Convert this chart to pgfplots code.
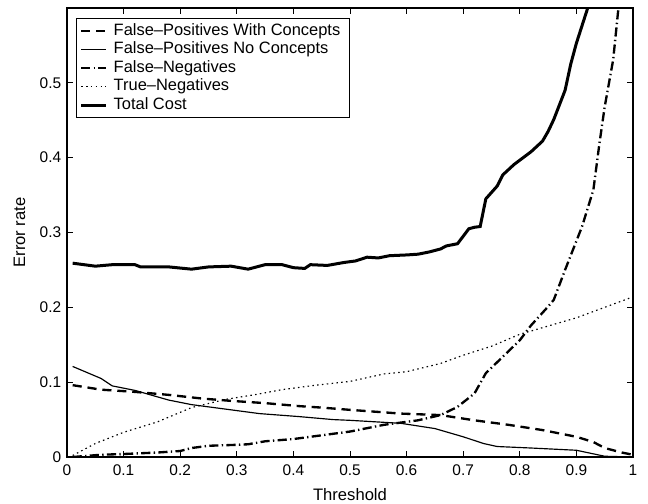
\documentclass[border=0pt]{standalone}
\usepackage{fontspec}
\setmainfont{Liberation Sans}
\usepackage{pgfplots}
\pgfplotsset{compat=1.18}
\begin{document}
\begin{tikzpicture}
\useasboundingbox (-40.2bp,-28.2bp) rectangle (348.6bp,274.2bp);
\begin{axis}[
  at={(0,0)}, anchor=south west,
  scale only axis, width=339.6bp, height=269.4bp,
  xmin=0, xmax=1, ymin=0, ymax=0.6,
  xtick={0,0.1,...,1}, ytick={0,0.1,...,0.5},
  xticklabels={0,0.1,0.2,0.3,0.4,0.5,0.6,0.7,0.8,0.9,1},
  yticklabels={0,0.1,0.2,0.3,0.4,0.5},
  tick align=inside, tick pos=both,
  major tick length=3.6bp,
  axis line style={line width=0.8bp},
  every tick/.style={line width=0.6bp, black},
  /pgf/number format/assume math mode=true,
  tick label style={font=\fontsize{9.3}{11}\selectfont},
  xticklabel style={yshift=-1bp},
  label style={font=\fontsize{10}{12}\selectfont},
  xlabel={Threshold}, ylabel={Error rate},
  xlabel style={yshift=-1bp},
  ylabel style={yshift=1.8bp},
  clip=true,
  legend cell align=left,
  legend style={at={(0.016,0.978)}, anchor=north west, draw=black, line width=0.8bp,
    font=\fontsize{9.9}{11}\selectfont, row sep=0bp, inner sep=1.8bp,
    nodes={inner xsep=3.6bp, inner ysep=1.08bp, text height=7bp, text depth=2bp}},
  legend image code/.code={\draw[#1] (0bp,0bp) -- (15bp,0bp);},
]
\addplot[black, line width=1.4bp, dash pattern=on 5.5bp off 3.5bp] coordinates {
(0.01,0.096) (0.06,0.090) (0.12,0.087) (0.18,0.083) (0.24,0.078) (0.29,0.075)
(0.35,0.072) (0.41,0.068) (0.45,0.066) (0.50,0.063) (0.59,0.058) (0.66,0.056)
(0.72,0.049) (0.78,0.043) (0.84,0.036) (0.90,0.027) (0.93,0.020) (0.95,0.012)
(0.98,0.006) (1.00,0.003)};
\addlegendentry{False\textendash Positives With Concepts}
\addplot[black, line width=0.7bp] coordinates {
(0.01,0.121) (0.06,0.105) (0.08,0.095) (0.12,0.089) (0.18,0.076) (0.22,0.070)
(0.29,0.063) (0.34,0.058) (0.41,0.054) (0.47,0.050) (0.50,0.049) (0.59,0.045)
(0.65,0.038) (0.70,0.027) (0.736,0.018) (0.76,0.014) (0.82,0.012) (0.90,0.009)
(0.95,0.001) (1.00,0.000)};
\addlegendentry{False\textendash Positives No Concepts}
\addplot[black, line width=1.4bp, dash pattern=on 5.5bp off 2bp on 0.8bp off 2bp] coordinates {
(0.01,0.000) (0.06,0.003) (0.10,0.004) (0.16,0.006) (0.20,0.008) (0.22,0.012)
(0.25,0.015) (0.29,0.016) (0.32,0.017) (0.35,0.021) (0.40,0.024) (0.44,0.028)
(0.46,0.030) (0.50,0.034) (0.56,0.043) (0.62,0.049) (0.66,0.056) (0.69,0.067)
(0.72,0.085) (0.74,0.112) (0.77,0.134) (0.80,0.156) (0.82,0.176) (0.85,0.201)
(0.86,0.210) (0.88,0.250) (0.91,0.308) (0.93,0.357) (0.94,0.415) (0.95,0.468)
(0.965,0.531) (0.974,0.598) (0.98,0.65)};
\addlegendentry{False\textendash Negatives}
\addplot[black, line width=0.7bp, dash pattern=on 0.9bp off 2bp] coordinates {
(0.01,0.002) (0.05,0.018) (0.10,0.033) (0.16,0.047) (0.22,0.066) (0.28,0.077)
(0.33,0.083) (0.38,0.090) (0.44,0.096) (0.50,0.101) (0.56,0.111) (0.60,0.114)
(0.66,0.125) (0.70,0.136) (0.75,0.148) (0.80,0.164) (0.85,0.175) (0.90,0.186)
(0.95,0.200) (1.00,0.214)};
\addlegendentry{True\textendash Negatives}
\addplot[black, line width=1.8bp] coordinates {
(0.01,0.259) (0.05,0.255) (0.08,0.257) (0.12,0.257) (0.13,0.254) (0.18,0.254)
(0.22,0.251) (0.25,0.254) (0.29,0.255) (0.32,0.251) (0.35,0.257) (0.38,0.257)
(0.40,0.253) (0.42,0.252) (0.43,0.257) (0.46,0.256) (0.49,0.260) (0.51,0.262)
(0.53,0.267) (0.55,0.266) (0.57,0.269) (0.60,0.270) (0.62,0.271) (0.64,0.274)
(0.66,0.278) (0.67,0.282) (0.69,0.285) (0.71,0.305) (0.72,0.307) (0.73,0.308)
(0.74,0.345) (0.76,0.362) (0.77,0.377) (0.79,0.391) (0.82,0.408) (0.84,0.422)
(0.85,0.435) (0.86,0.451) (0.88,0.490) (0.89,0.525) (0.90,0.553) (0.92,0.600)
(0.93,0.620)};
\addlegendentry{Total Cost}
\end{axis}
\end{tikzpicture}
\end{document}
